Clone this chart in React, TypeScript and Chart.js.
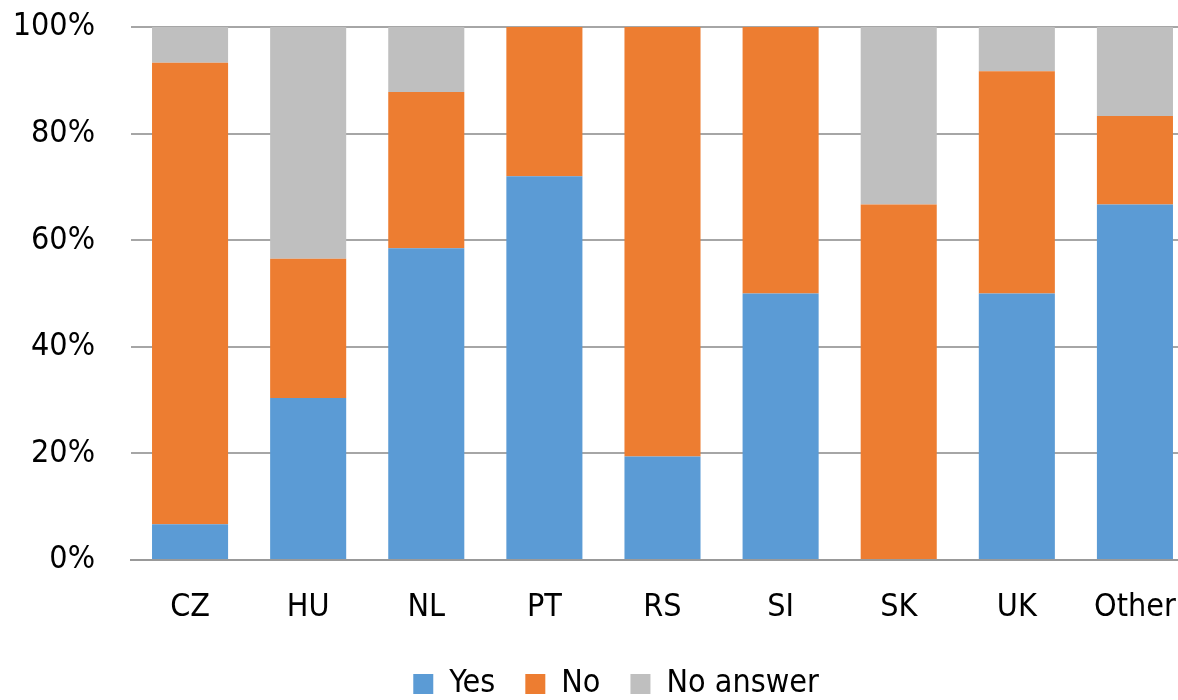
import React, { useEffect, useRef } from "react";
import { Chart, registerables } from "chart.js";

Chart.register(...registerables);

const countries = ["CZ", "HU", "NL", "PT", "RS", "SI", "SK", "UK", "Other"];
const yesShare = [6.7, 30.4, 58.5, 72.0, 19.4, 50.0, 0, 50.0, 66.7];
const noShare = [86.6, 26.1, 29.3, 28.0, 80.6, 50.0, 66.7, 41.7, 16.6];
const noAnswerShare = [6.7, 43.5, 12.2, 0, 0, 0, 33.3, 8.3, 16.7];
const yTicks = [0, 20, 40, 60, 80, 100];

const FONT = "'DejaVu Sans Condensed', 'Liberation Sans Narrow', 'Arial Narrow', sans-serif";

// Nudges the centred legend row a little to the right of the canvas centre.
const legendShift = {
  id: "legendShift",
  afterLayout(chart: any) {
    const lg = chart.legend;
    if (lg) {
      lg.left += 19;
      lg.right += 19;
    }
  },
};

export default function App() {
  const canvasRef = useRef<HTMLCanvasElement | null>(null);

  useEffect(() => {
    const canvas = canvasRef.current;
    if (!canvas) return;
    const chart = new Chart(canvas, {
      type: "bar",
      data: {
        labels: countries,
        datasets: [
          { label: "Yes", data: yesShare, backgroundColor: "#5B9BD5", categoryPercentage: 0.644, barPercentage: 1 },
          { label: "No", data: noShare, backgroundColor: "#ED7D31", categoryPercentage: 0.644, barPercentage: 1 },
          { label: "No answer", data: noAnswerShare, backgroundColor: "#BFBFBF", categoryPercentage: 0.644, barPercentage: 1 },
        ],
      },
      options: {
        animation: false,
        responsive: false,
        maintainAspectRatio: false,
        layout: { padding: { top: 27, right: 6, left: 0, bottom: 0 } },
        scales: {
          x: {
            stacked: true,
            grid: { display: false, drawTicks: false },
            border: { display: true, color: "#999999", width: 2 },
            ticks: { color: "#000", font: { family: FONT, size: 32 }, padding: 28 },
            afterFit: (scale: any) => {
              scale.height = 78;
              scale.paddingLeft = 0;
              scale.paddingRight = 0;
            },
          },
          y: {
            stacked: true,
            min: 0,
            max: 100,
            afterBuildTicks: (scale: any) => {
              scale.ticks = yTicks.map((v) => ({ value: v }));
            },
            afterFit: (scale: any) => {
              scale.width = 131;
              scale.paddingTop = 0;
              scale.paddingBottom = 0;
            },
            grid: { color: "#A6A6A6", lineWidth: 2, drawTicks: false },
            border: { display: false },
            ticks: {
              color: "#000",
              font: { family: FONT, size: 32 },
              padding: 36,
              callback: (v: any) => v + "%",
            },
          },
        },
        plugins: {
          legend: {
            position: "bottom",
            labels: {
              color: "#000",
              font: { family: FONT, size: 32 },
              boxWidth: 20,
              boxHeight: 20,
              padding: 30,
            },
          },
          tooltip: { enabled: false },
        },
      },
      plugins: [legendShift],
    });
    return () => chart.destroy();
  }, []);

  return (
    <div style={{ position: "absolute", left: 0, top: 0, width: 1178, height: 700, overflow: "hidden", background: "#fff" }}>
      <canvas ref={canvasRef} width={1200} height={710} style={{ display: "block" }} />
    </div>
  );
}
